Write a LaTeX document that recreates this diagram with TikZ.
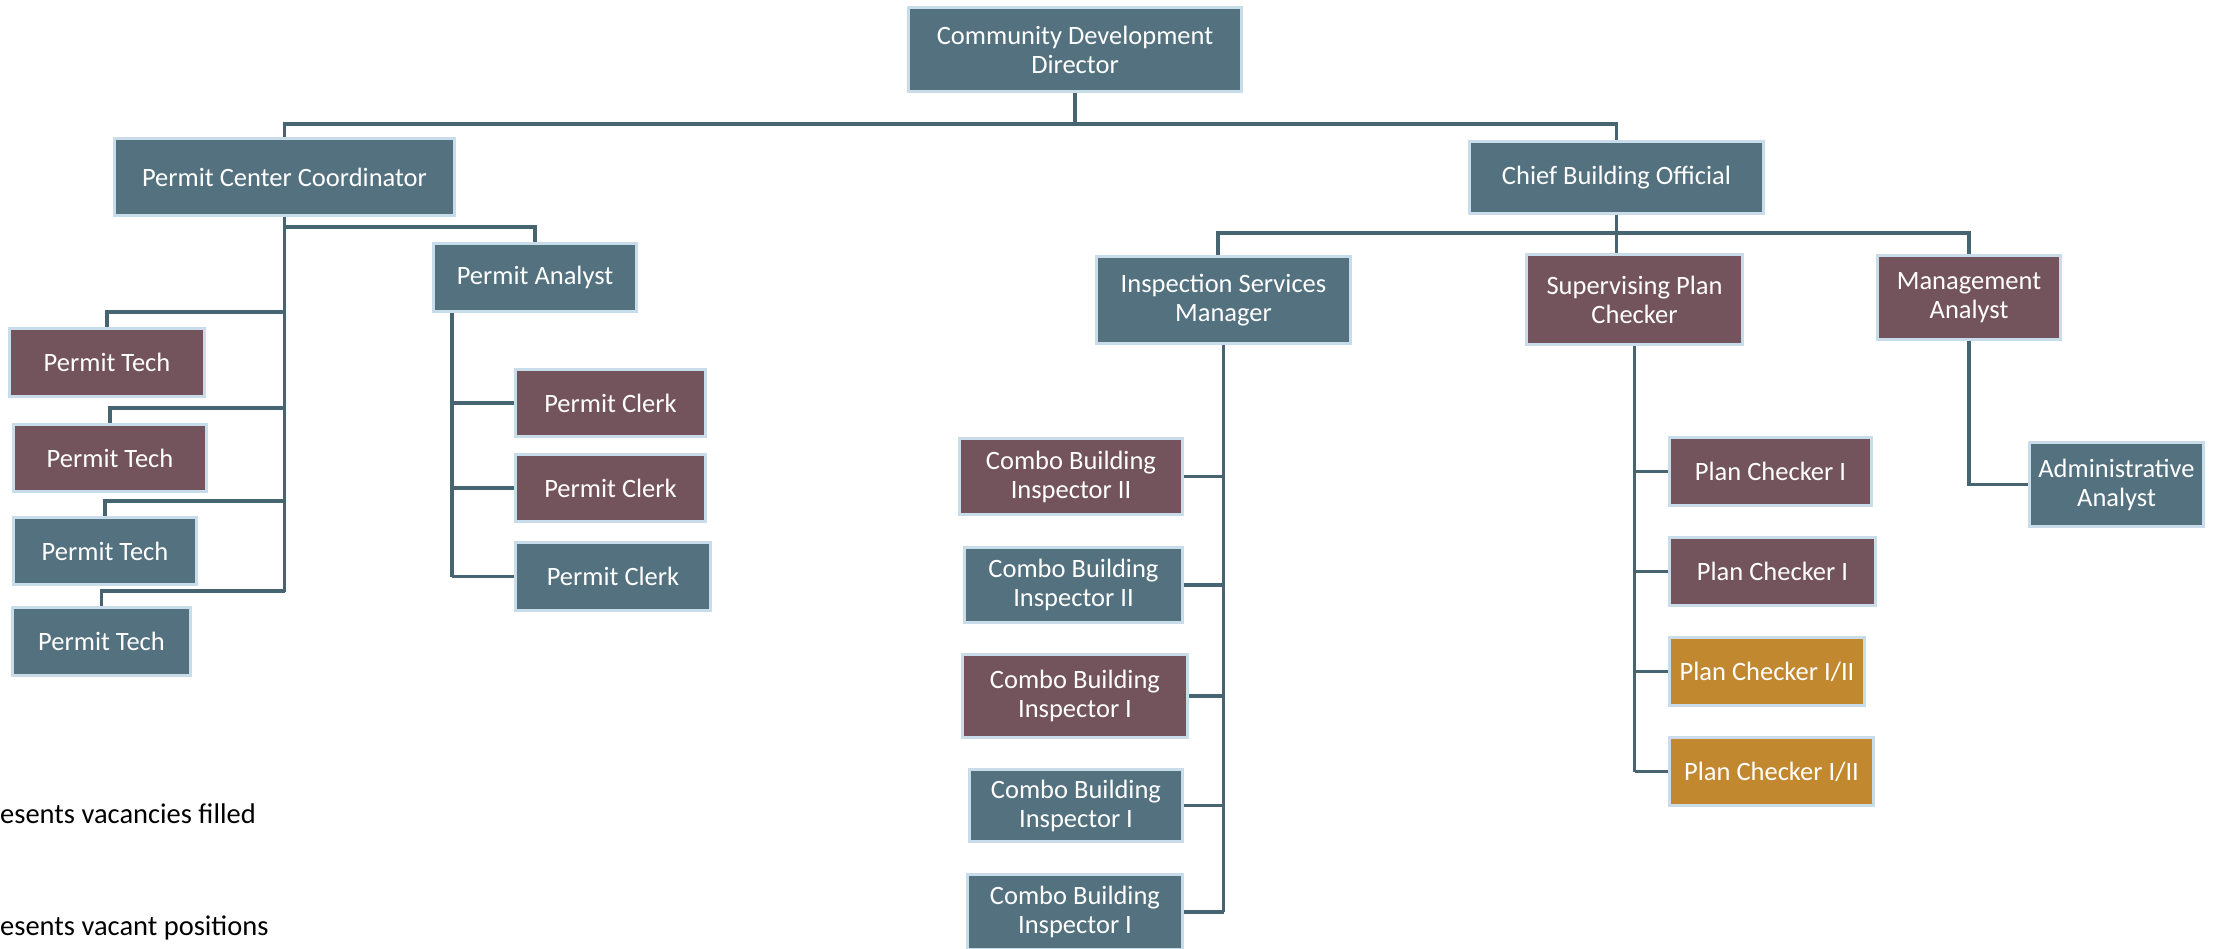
\documentclass[tikz,border=0pt]{standalone}
\usepackage{fontspec}
\setmainfont{Carlito}
\definecolor{slate}{HTML}{53717F}
\definecolor{mauve}{HTML}{74545C}
\definecolor{ochre}{HTML}{C2882F}
\definecolor{rim}{HTML}{C8DCEA}
\definecolor{wirecol}{HTML}{466570}
\tikzset{
  post/.style={rectangle, draw=rim, line width=3pt, text=white, align=center,
    inner sep=0pt, outer sep=1.5pt, font=\fontsize{26.5}{29}\selectfont},
  held/.style={post, fill=slate},
  vacant/.style={post, fill=mauve},
  flexpost/.style={post, fill=ochre},
  wire/.style={draw=wirecol, line width=3.5pt},
  legendtext/.style={anchor=base west, inner sep=0pt, text=black,
    font=\fontsize{28.5}{30}\selectfont}
}
\begin{document}
\begin{tikzpicture}[x=1pt,y=-1pt]
\useasboundingbox (0,0) rectangle (2216,949);

% top level
\node[held, minimum width=333pt, minimum height=84pt] (cdd) at (1075,49.5) {Community Development\\Director};
\node[held, minimum width=340pt, minimum height=77pt] (pcc) at (284.5,177) {Permit Center Coordinator};
\node[held, minimum width=294pt, minimum height=72pt] (cbo) at (1616.5,177.5) {Chief Building Official};

% permit center
\node[held, minimum width=203pt, minimum height=68pt] (pa) at (535,277.5) {Permit Analyst};
\node[vacant, minimum width=195pt, minimum height=68pt] (pt1) at (107,362.5) {Permit Tech};
\node[vacant, minimum width=193pt, minimum height=67pt] (pt2) at (110,458) {Permit Tech};
\node[held, minimum width=183pt, minimum height=67pt] (pt3) at (105,551) {Permit Tech};
\node[held, minimum width=178pt, minimum height=68pt] (pt4) at (101.5,641.5) {Permit Tech};
\node[vacant, minimum width=190pt, minimum height=67pt] (pc1) at (610.5,403) {Permit Clerk};
\node[vacant, minimum width=190pt, minimum height=67pt] (pc2) at (610.5,488) {Permit Clerk};
\node[held, minimum width=195pt, minimum height=68pt] (pc3) at (613,576.5) {Permit Clerk};

% building division
\node[held, minimum width=254pt, minimum height=87pt] (ism) at (1223.5,300) {Inspection Services\\Manager};
\node[vacant, minimum width=216pt, minimum height=90pt] (spc) at (1634.5,299.5) {Supervising Plan\\Checker};
\node[vacant, minimum width=183pt, minimum height=84pt] (ma) at (1969,297.5) {Management\\Analyst};

\node[vacant, minimum width=223pt, minimum height=76pt] (cbi1) at (1071,476.5) {Combo Building\\Inspector II};
\node[held, minimum width=218pt, minimum height=75pt] (cbi2) at (1073.5,585) {Combo Building\\Inspector II};
\node[vacant, minimum width=225pt, minimum height=83pt] (cbi3) at (1075,696) {Combo Building\\Inspector I};
\node[held, minimum width=213pt, minimum height=72pt] (cbi4) at (1076,805.5) {Combo Building\\Inspector I};
\node[held, minimum width=215pt, minimum height=75pt] (cbi5) at (1075,912) {Combo Building\\Inspector I};

\node[vacant, minimum width=202pt, minimum height=68pt] (plc1) at (1770.5,471.5) {Plan Checker I};
\node[vacant, minimum width=206pt, minimum height=68pt] (plc2) at (1772.5,571.5) {Plan Checker I};
\node[flexpost, minimum width=195pt, minimum height=68pt] (plc3) at (1767,671.5) {Plan Checker I/II};
\node[flexpost, minimum width=204pt, minimum height=68pt] (plc4) at (1771.5,771.5) {Plan Checker I/II};

\node[held, minimum width=174pt, minimum height=84pt] (aa) at (2116.5,484.5) {Administrative\\Analyst};

% legend
\node[legendtext] (lg1) at (0,823) {esents vacancies filled};
\node[legendtext] (lg2) at (0,935) {esents vacant positions};

% director to the two branches
\coordinate (topj) at (1075,124);
\draw[wire] (cdd.south) -- (topj);
\draw[wire] (topj) -| (pcc.north);
\draw[wire] (topj) -| (cbo.north);

% permit center coordinator
\coordinate (pcEnd) at (284.5,592);
\coordinate (paj) at (284.5,227);
\coordinate (pt1j) at (284.5,312);
\coordinate (pt2j) at (284.5,408);
\coordinate (pt3j) at (284.5,501);
\coordinate (pt4j) at (284.5,591);
\draw[wire] (pcc.south) -- (pcEnd);
\draw[wire] (paj) -| (pa.north);
\draw[wire] (pt1j) -| (pt1.north);
\draw[wire] (pt2j) -| (pt2.north);
\draw[wire] (pt3j) -| (pt3.north);
\draw[wire] (pt4j) -| (pt4.north);

% permit analyst
\coordinate (paEnd) at (452,576.5);
\draw[wire] (paEnd |- pa.south) -- (paEnd);
\foreach \c in {pc1,pc2,pc3} \draw[wire] (\c.west) -- (\c.west -| paEnd);

% chief building official
\coordinate (ismj) at (1218,233);
\draw[wire] (cbo.south) -- (cbo.south |- spc.north);
\draw[wire] (ismj |- ism.north) -- (ismj) -| (ma.north);

% inspection services manager
\coordinate (ismEnd) at (1223.5,912);
\draw[wire] (ism.south) -- (ismEnd);
\foreach \c in {cbi1,cbi2,cbi3,cbi4,cbi5} \draw[wire] (\c.east) -- (\c.east -| ismEnd);

% supervising plan checker
\draw[wire] (spc.south) -- (spc.south |- plc4.west);
\foreach \c in {plc1,plc2,plc3,plc4} \draw[wire] (\c.west) -- (\c.west -| spc.south);

% management analyst
\draw[wire] (ma.south) |- (aa.west);
\end{tikzpicture}
\end{document}
